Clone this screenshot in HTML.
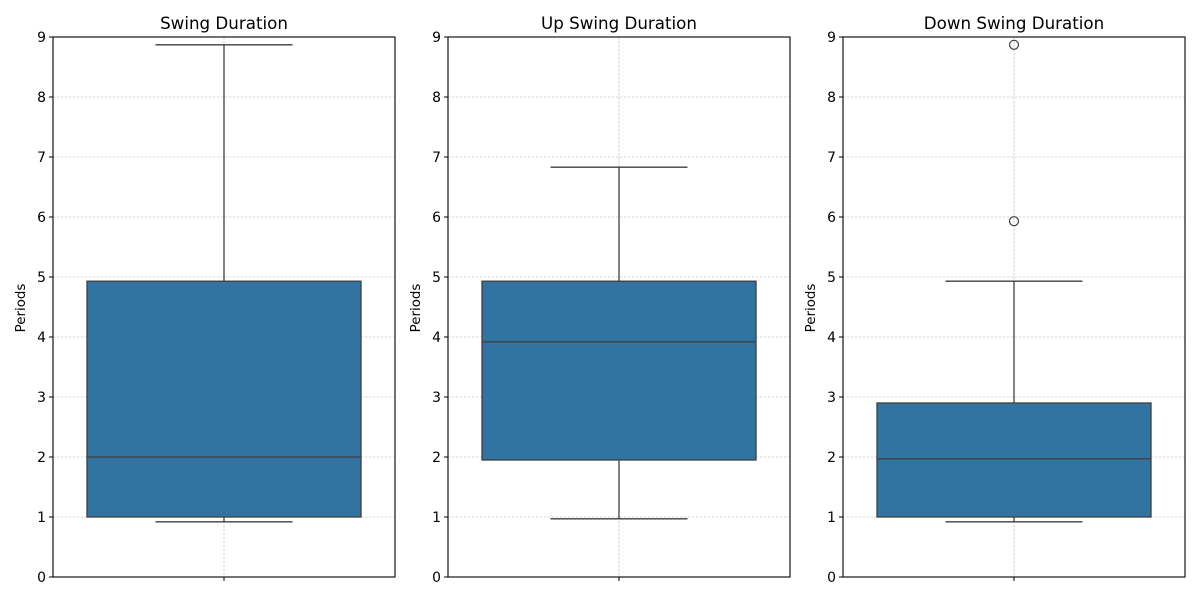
<!DOCTYPE html>
<html><head><meta charset="utf-8"><style>
body{margin:0;background:#fff;}
svg text{font-family:"DejaVu Sans","Liberation Sans",sans-serif;}
</style></head><body>
<svg id="chart" width="1200" height="600" xmlns="http://www.w3.org/2000/svg"></svg>
<script>
const titles = ["Swing Duration", "Up Swing Duration", "Down Swing Duration"];
const whiskerLow = [0.92, 0.97, 0.92];
const q1 = [1.0, 1.95, 1.0];
const median = [2.0, 3.92, 1.97];
const q3 = [4.93, 4.93, 2.9];
const whiskerHigh = [8.87, 6.83, 4.93];
const outliers = [[], [], [5.93, 8.87]];
const yTicks = [0,1,2,3,4,5,6,7,8,9];

const svgEl = document.getElementById('chart');
const NS = 'http://www.w3.org/2000/svg';
function mk(tag, attrs, parent){const e=document.createElementNS(NS,tag);for(const k in attrs)e.setAttribute(k,attrs[k]);(parent||svgEl).appendChild(e);return e;}
const panelX = [53, 448, 843], W = 342, topY = 37, bottomY = 577;
const yMin = 0, yMax = 9;
function yS(v){return bottomY - (v - yMin)/(yMax - yMin)*(bottomY - topY);}

titles.forEach((t, i) => {
  const x0 = panelX[i], cx = x0 + W/2;
  const g = mk('g', {});
  
  
  yTicks.forEach(v => {
    const l = mk('line', {x1:x0, x2:x0+W, y1:yS(v), y2:yS(v), stroke:'#b0b0b0', 'stroke-width':0.6, 'stroke-dasharray':'2.5,1.5'}, g);
    
    
  });
  mk('line', {x1:cx, x2:cx, y1:topY, y2:bottomY, stroke:'#b0b0b0', 'stroke-width':0.6, 'stroke-dasharray':'2.5,1.5'}, g);
  const bw = 274, cap = 137;
  const wl = mk('line', {x1:cx, x2:cx, y1:yS(whiskerLow[i]), y2:yS(q1[i]), stroke:'#3f3f3f', 'stroke-width':1.3}, g);
  
  
  const wh = mk('line', {x1:cx, x2:cx, y1:yS(q3[i]), y2:yS(whiskerHigh[i]), stroke:'#3f3f3f', 'stroke-width':1.3}, g);
  
  
  [whiskerLow[i], whiskerHigh[i]].forEach(v => {
    const c = mk('line', {x1:cx-cap/2, x2:cx+cap/2, y1:yS(v), y2:yS(v), stroke:'#3f3f3f', 'stroke-width':1.3}, g);
    
    
  });
  const box = mk('rect', {x:cx-bw/2, y:yS(q3[i]), width:bw, height:yS(q1[i])-yS(q3[i]), fill:'#3274a1', stroke:'#3f3f3f', 'stroke-width':1.3}, g);
  
  
  const md = mk('line', {x1:cx-bw/2, x2:cx+bw/2, y1:yS(median[i]), y2:yS(median[i]), stroke:'#3f3f3f', 'stroke-width':1.3}, g);
  
  
  outliers[i].forEach(v => {
    const o = mk('circle', {cx:cx, cy:yS(v), r:4.5, fill:'none', stroke:'#3f3f3f', 'stroke-width':1.2}, g);
    
    
  });
  const fr = mk('rect', {x:x0, y:topY, width:W, height:bottomY-topY, fill:'none', stroke:'#000', 'stroke-width':1.1}, g);
  
  
  yTicks.forEach(v => {
    mk('line', {x1:x0-4, x2:x0, y1:yS(v), y2:yS(v), stroke:'#000', 'stroke-width':1}, g);
    const tl = mk('text', {x:x0-7, y:yS(v)+5, 'text-anchor':'end', 'font-size':13.9, fill:'#000'}, g);
    tl.textContent = v;
    
    
  });
  mk('line', {x1:cx, x2:cx, y1:bottomY, y2:bottomY+4, stroke:'#000', 'stroke-width':1}, g);
  const yl = mk('text', {x:0, y:0, transform:`translate(${x0-28},${(topY+bottomY)/2 + 1}) rotate(-90)`, 'text-anchor':'middle', 'font-size':13.4, fill:'#000'}, g);
  yl.textContent = 'Periods';
  
  
  const tt = mk('text', {x:cx, y:29, 'text-anchor':'middle', 'font-size':16.7, fill:'#000'}, g);
  tt.textContent = t;
  
  
});
</script>
</body></html>
